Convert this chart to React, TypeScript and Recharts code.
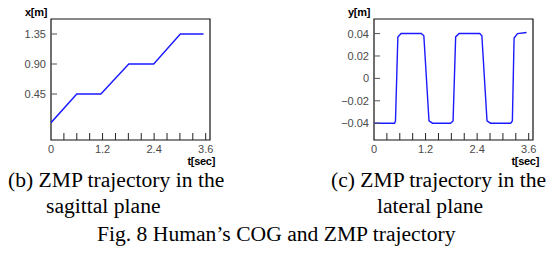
import React from 'react';
import { LineChart, Line, XAxis, YAxis, ReferenceArea } from 'recharts';

// sagittal ZMP (b)
const sagT = [0, 0.6, 1.16, 1.81, 2.39, 3.01, 3.55];
const sagX = [0.02, 0.45, 0.45, 0.9, 0.9, 1.35, 1.35];

// lateral ZMP (c)
const latT = [0, 0.48, 0.5, 0.555, 0.63, 1.1, 1.16, 1.28, 1.36, 1.78, 1.84, 1.9, 1.98, 2.46, 2.51, 2.63, 2.71, 3.18, 3.22, 3.26, 3.34, 3.55];
const latY = [-0.04, -0.04, -0.038, 0.037, 0.04, 0.04, 0.038, -0.038, -0.04, -0.04, -0.038, 0.037, 0.04, 0.04, 0.038, -0.038, -0.04, -0.04, -0.038, 0.036, 0.04, 0.041];

const timeTicks = [0, 0.3, 0.6, 0.9, 1.2, 1.5, 1.8, 2.1, 2.4, 2.7, 3.0, 3.3, 3.6];
const timeLabels = [0, 1.2, 2.4, 3.6];
const sagTicks = [0.45, 0.9, 1.35];
const latTicks = [-0.04, -0.02, 0, 0.02, 0.04];

const sagData = sagT.map((t, i) => ({ t, v: sagX[i] }));
const latData = latT.map((t, i) => ({ t, v: latY[i] }));

const TMAX = 3.7;
const sagDomain: [number, number] = [-0.24, 1.575];
const latDomain: [number, number] = [-0.055, 0.053];

const tickFont = '"Liberation Sans", Arial, sans-serif';
const tickColor = '#4a4a4a';

function XTick(props: any) {
  const { x, y, payload } = props;
  const v = payload.value;
  const label = timeLabels.find((l) => Math.abs(l - v) < 1e-6);
  return (
    <g>
      {v > 0 && <line x1={x} x2={x} y1={y} y2={y - 7} stroke="#222" strokeWidth={1} />}
      {label !== undefined && (
        <text x={x} y={y + 13} textAnchor="middle" fontFamily={tickFont} fontSize={11} fill={tickColor}>
          {label === 0 ? '0' : label.toFixed(1)}
        </text>
      )}
    </g>
  );
}

function makeYTick(fmt: (v: number) => string) {
  return function YTick(props: any) {
    const { x, y, payload } = props;
    return (
      <g>
        <line x1={x} x2={x + 6} y1={y} y2={y} stroke="#555" strokeWidth={1} />
        <text x={x - 5} y={y + 4} textAnchor="end" fontFamily={tickFont} fontSize={11} fill={tickColor}>
          {fmt(payload.value)}
        </text>
      </g>
    );
  };
}

const sagFmt = (v: number) => v.toFixed(2);
const latFmt = (v: number) => (v === 0 ? '0' : v < 0 ? '\u2212' + Math.abs(v).toFixed(2) : v.toFixed(2));

function Panel({ data, domain, ticks, fmt, yWidth, right }: any) {
  return (
    <LineChart width={230} height={170} data={data} margin={{ top: 19, right, bottom: 0, left: 0 }}>
      <XAxis
        type="number"
        dataKey="t"
        domain={[0, TMAX]}
        ticks={timeTicks}
        allowDataOverflow
        height={30}
        tickSize={0}
        tickMargin={0}
        tick={<XTick />}
        axisLine={false}
        tickLine={false}
        interval={0}
      />
      <YAxis
        type="number"
        domain={domain}
        ticks={ticks}
        allowDataOverflow
        width={yWidth}
        tickSize={0}
        tickMargin={0}
        tick={React.createElement(makeYTick(fmt))}
        axisLine={false}
        tickLine={false}
        interval={0}
      />
      <ReferenceArea x1={0} x2={TMAX} y1={domain[0]} y2={domain[1]} fill="none" stroke="#111" strokeWidth={1.2} ifOverflow="visible" />
      <Line type="linear" dataKey="v" stroke="#1a1aff" strokeWidth={1.4} dot={false} isAnimationActive={false} />
    </LineChart>
  );
}

const serif = '"Liberation Serif", "Times New Roman", serif';
const boldSans = { fontFamily: tickFont, fontSize: 11, fontWeight: 700, fill: '#000', letterSpacing: -0.3 } as const;

export default function App() {
  return (
    <div style={{ position: 'absolute', left: 0, top: 0, width: 555, height: 257, background: '#fff' }}>
      <div style={{ position: 'absolute', left: 0, top: 0 }}>
        <Panel data={sagData} domain={sagDomain} ticks={sagTicks} fmt={sagFmt} yWidth={51} right={20} />
      </div>
      <div style={{ position: 'absolute', left: 320, top: 0 }}>
        <Panel data={latData} domain={latDomain} ticks={latTicks} fmt={latFmt} yWidth={54} right={17} />
      </div>
      <svg width={555} height={257} style={{ position: 'absolute', left: 0, top: 0, pointerEvents: 'none' }}>
        <text x={47} y={16} textAnchor="end" {...boldSans}>x[m]</text>
        <text x={370} y={16} textAnchor="end" {...boldSans}>y[m]</text>
        <text x={215} y={165} textAnchor="end" {...boldSans}>t[sec]</text>
        <text x={539} y={165} textAnchor="end" {...boldSans}>t[sec]</text>
        <g fontFamily={serif} fontSize={21.6} fill="#000">
          <text x={8} y={187}>(b) ZMP trajectory in the</text>
          <text x={46} y={213}>sagittal plane</text>
          <text x={331} y={187}>(c) ZMP trajectory in the</text>
          <text x={377} y={213}>lateral plane</text>
          <text x={97} y={241}>Fig. 8 Human’s COG and ZMP trajectory</text>
        </g>
      </svg>
    </div>
  );
}
